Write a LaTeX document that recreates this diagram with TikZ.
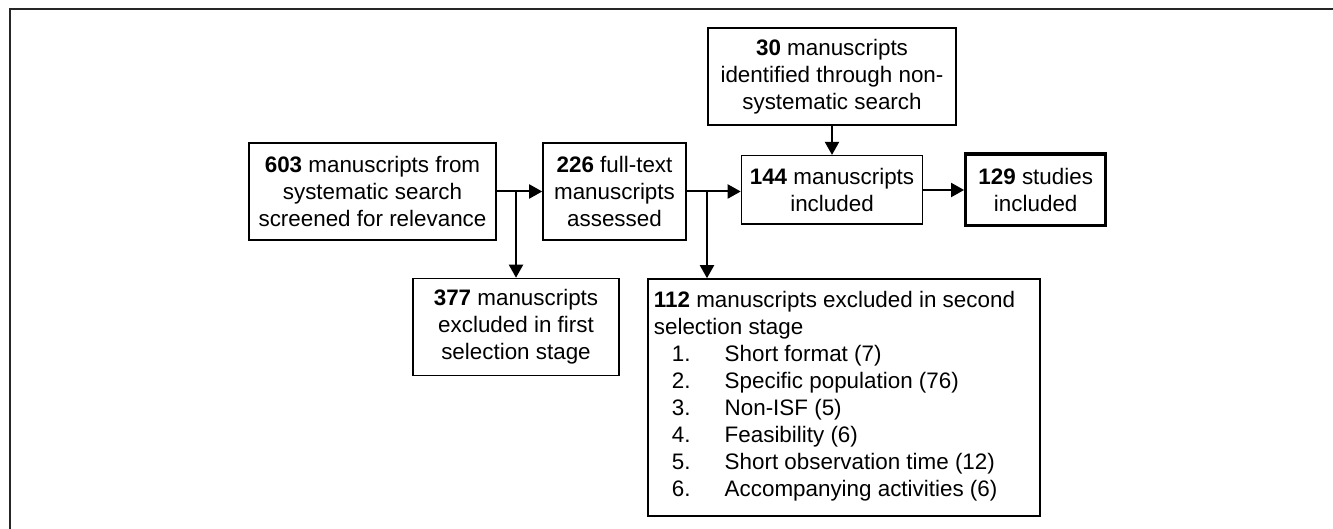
\documentclass[tikz,border=0pt]{standalone}
\usepackage{fontspec}
\setmainfont{Liberation Sans}
\usetikzlibrary{arrows.meta,calc}
\begin{document}
\begin{tikzpicture}[x=0.5pt,y=-0.5pt,
  box/.style={draw, line width=0.8pt, inner sep=0pt, align=center,
    font=\fontsize{11.2}{13.5}\selectfont},
  arr/.style={line width=1pt, -{Triangle[length=6.5pt,width=7pt]}},
  frameline/.style={line width=1pt, draw=black!85}]
\useasboundingbox (0,0) rectangle (1333,529);
\draw[frameline] (9.5,529) -- (9.5,9.5) -- (1333,9.5);

\node[box, minimum width=123.5pt, minimum height=48.5pt] (n603) at (372.5,191.5)
  {\textbf{603} manuscripts from\\systematic search\\screened for relevance};
\node[box, minimum width=71.5pt, minimum height=48.5pt] (n226) at (614.5,191.5)
  {\textbf{226} full-text\\manuscripts\\assessed};
\node[box, minimum width=123.75pt, minimum height=48.5pt] (n30) at (832,76.7)
  {\textbf{30} manuscripts\\identified through non-\\systematic search};
\node[box, minimum width=90.5pt, minimum height=34.3pt] (n144) at (832,190)
  {\textbf{144} manuscripts\\included};
\node[box, line width=1.6pt, minimum width=70pt, minimum height=35.9pt] (n129) at (1035.7,190)
  {\textbf{129} studies\\included};
\node[box, minimum width=103pt, minimum height=48.5pt] (n377) at (516,327)
  {\textbf{377} manuscripts\\excluded in first\\selection stage};
\node[box, minimum width=196pt, minimum height=118.5pt] (n112) at (844,397.5) {};
\node[anchor=north west, inner sep=0pt, align=left,
  font=\fontsize{11.2}{13.5}\selectfont] (n112t) at ($(n112.north west)+(6.3,13)$)
  {\textbf{112} manuscripts excluded in second\\
   selection stage\\
   \hspace*{9pt}\makebox[26.4pt][l]{1.}Short format (7)\\
   \hspace*{9pt}\makebox[26.4pt][l]{2.}Specific population (76)\\
   \hspace*{9pt}\makebox[26.4pt][l]{3.}Non-ISF (5)\\
   \hspace*{9pt}\makebox[26.4pt][l]{4.}Feasibility (6)\\
   \hspace*{9pt}\makebox[26.4pt][l]{5.}Short observation time (12)\\
   \hspace*{9pt}\makebox[26.4pt][l]{6.}Accompanying activities (6)};

\coordinate (b1) at (516,191.5);
\coordinate (b2) at (707,191.5);
\draw[arr] (n603.east) -- (n226.west);
\draw[arr] (b1) -- (b1 |- n377.north);
\draw[arr] (n226.east) -- (n226.east -| n144.west);
\draw[arr] (b2) -- (b2 |- n112.north);
\draw[arr] (n30.south) -- (n144.north);
\draw[arr] (n144.east) -- (n129.west);
\end{tikzpicture}
\end{document}
